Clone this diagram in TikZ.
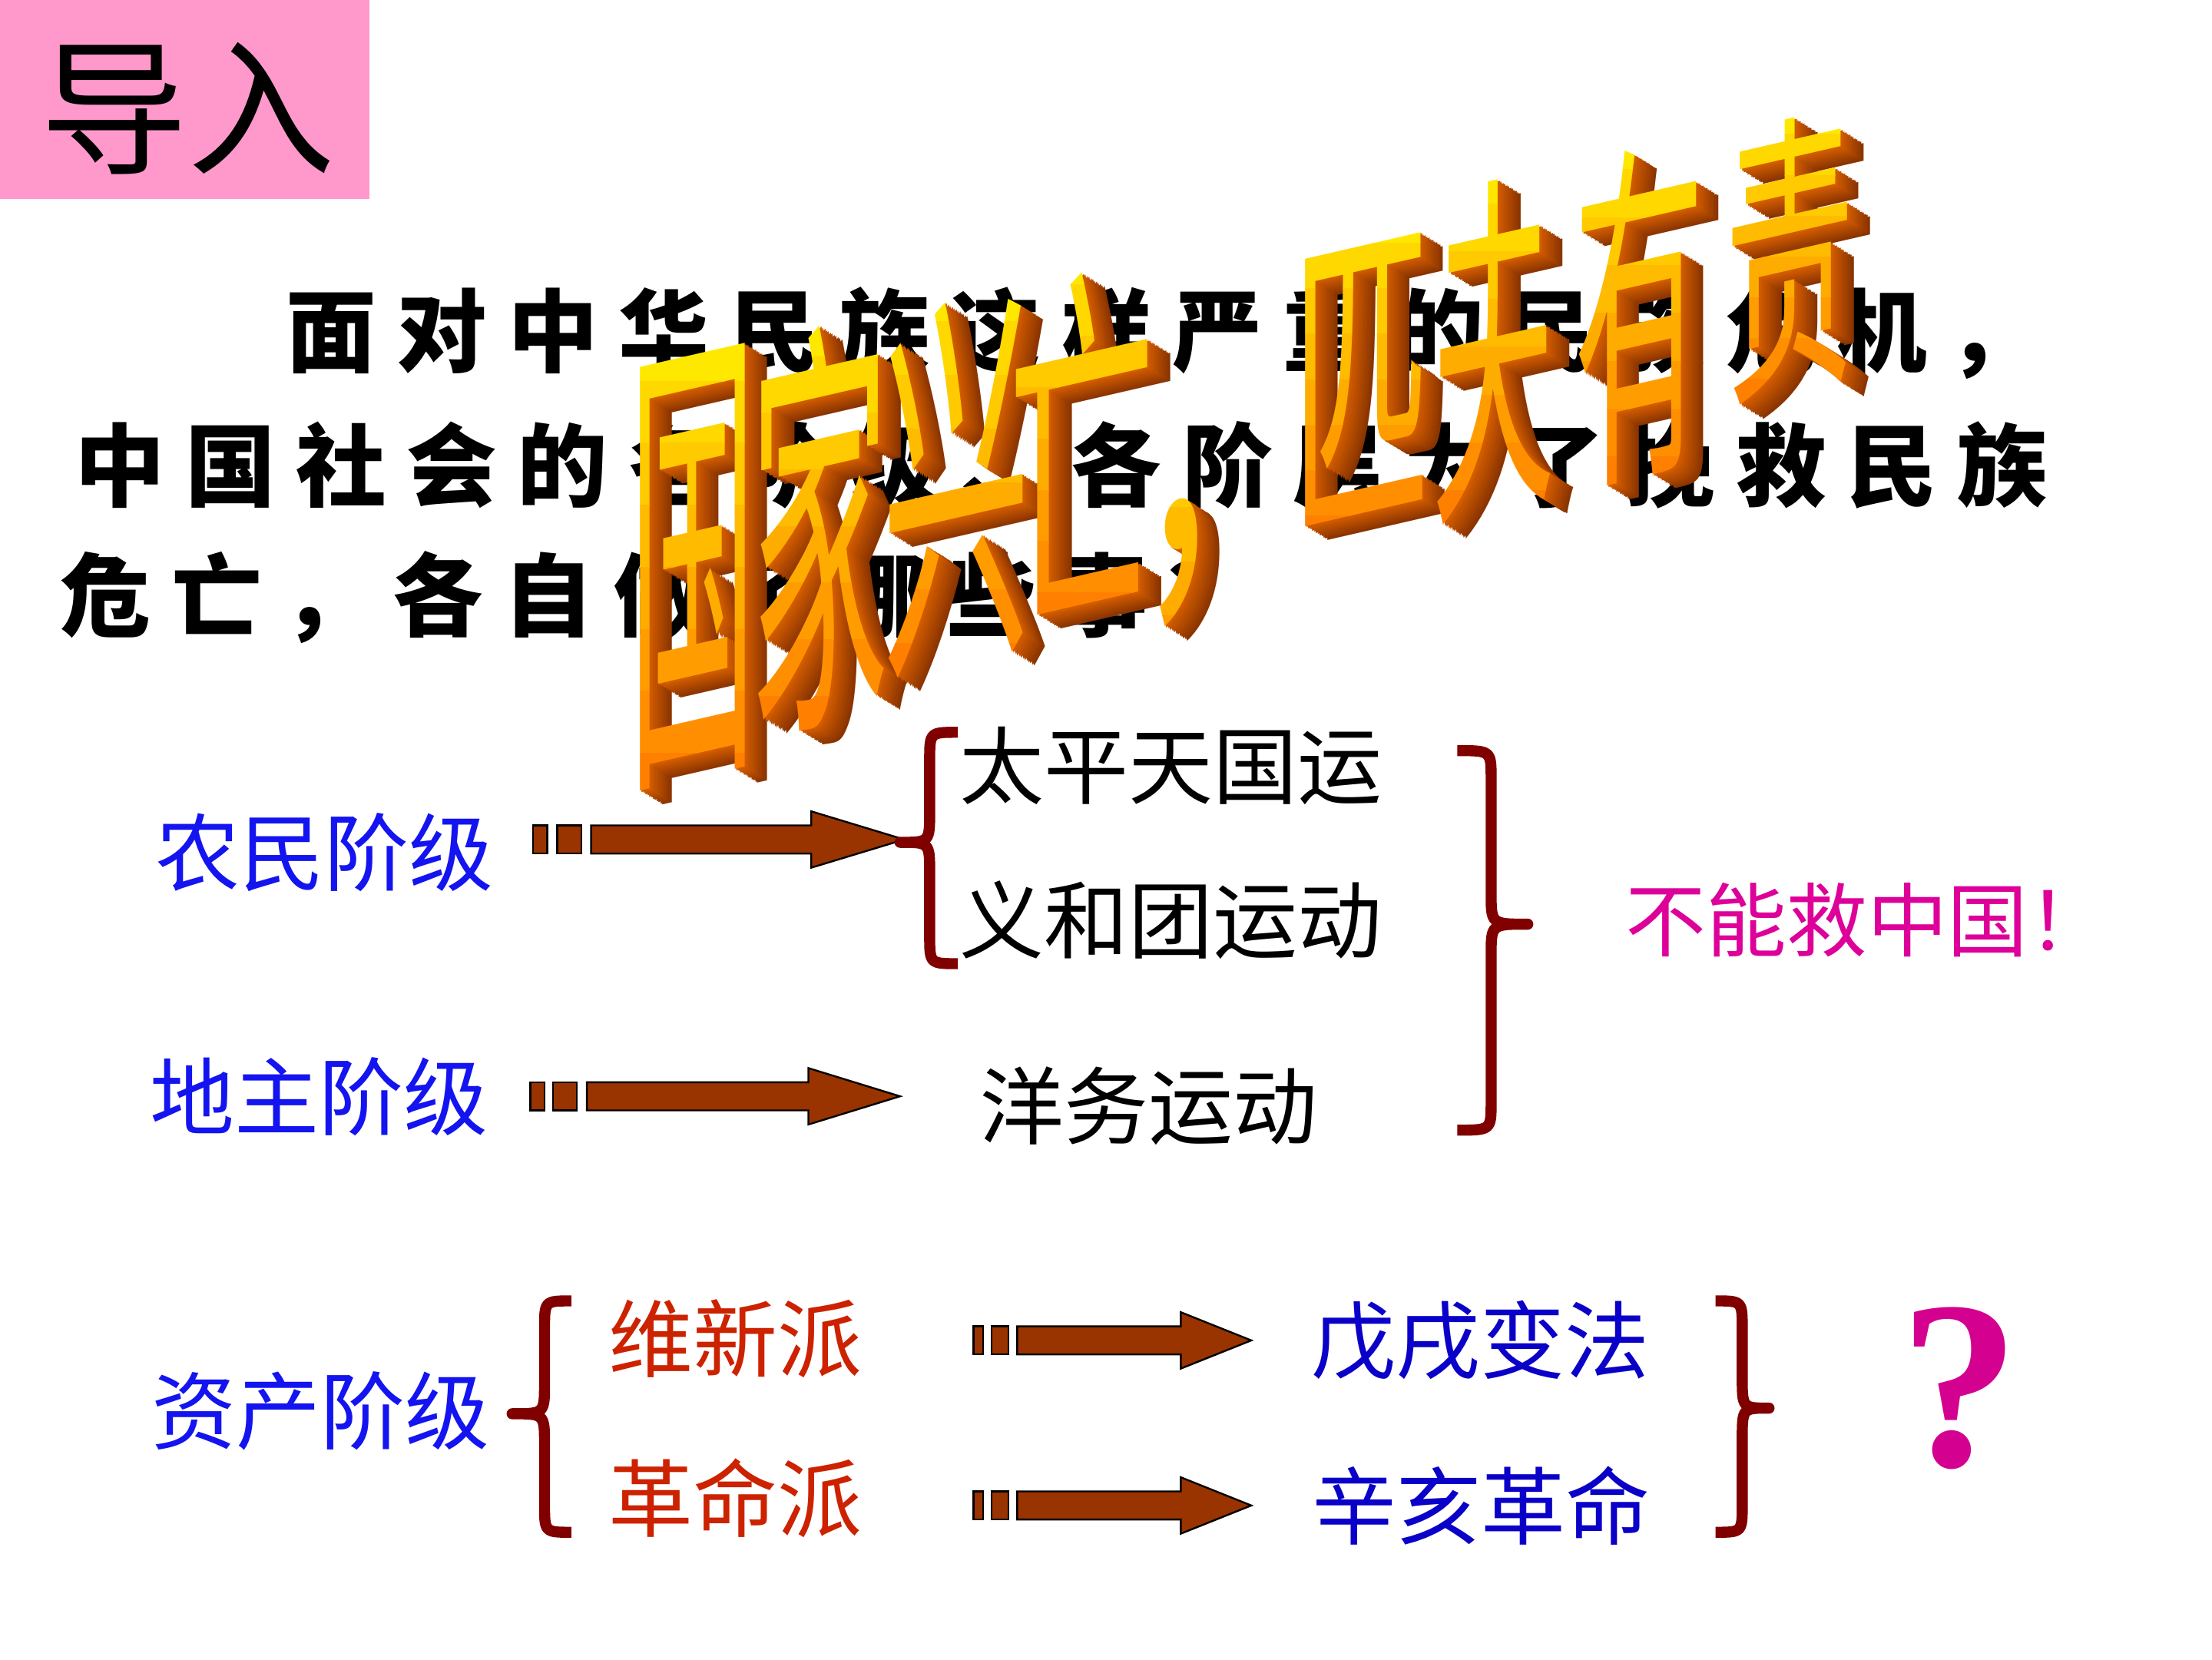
\documentclass[tikz,border=0pt]{standalone}
\usepackage{fontspec}
\newfontfamily\cjk{Noto Sans CJK SC}
\newfontfamily\qfont{Liberation Serif}
\definecolor{pinkbox}{HTML}{FF99CC}
\definecolor{lblue}{HTML}{1414F0}
\definecolor{dblue}{HTML}{0A00C8}
\definecolor{redtxt}{HTML}{CC2200}
\definecolor{magtxt}{HTML}{DD0099}
\definecolor{qmag}{HTML}{D4008F}
\definecolor{bracec}{HTML}{800000}
\definecolor{arrowc}{HTML}{993300}
\definecolor{wfTop}{HTML}{FFE800}
\definecolor{wfBot}{HTML}{FF8000}
\definecolor{wsB}{HTML}{8A3400}
\definecolor{wsF}{HTML}{D25C00}

\newcommand\barrowshape[8]{%
  \draw[barw] (#1,#8-10) rectangle (#2,#8+10);
  \draw[barw] (#3,#8-10) rectangle (#4,#8+10);
  \draw[barw] (#5,#8-10) -- (#6,#8-10) -- (#6,#8-20) -- (#7,#8) -- (#6,#8+20) -- (#6,#8+10) -- (#5,#8+10) -- cycle;}

\newcommand\bracepath[6]{%
  \draw[brc] (#1,#4) .. controls (#2,#4) .. (#2,#4+20) -- (#2,#5-22)
     .. controls (#2,#5) .. (#3,#5) .. controls (#2,#5) .. (#2,#5+22)
     -- (#2,#6-20) .. controls (#2,#6) .. (#1,#6);}

\newcommand\wachar[6]{%
  \foreach \k in {12,11,...,1}{%
    \pgfmathtruncatemacro\pp{(12-\k)*100/11}%
    \begin{scope}[shift={(#3+\k*1.33,#4+\k*0.83)}]
      \node[wa, yslant=0.23, xscale=#5, yscale=#6, text=wsF!\pp!wsB] (wa#1s\k) at (0,0) {#2};
    \end{scope}}
  \pgfmathsetmacro\hh{40*#6+10*#5+8}%
  \pgfmathsetmacro\bh{\hh/4}%
  \foreach \j in {0,...,7}{%
    \pgfmathtruncatemacro\qq{100-\j*100/7}%
    \begin{scope}[shift={(#3,#4)}]
      \clip (-110,{-\hh+\j*\bh}) rectangle (110,{-\hh+(\j+1)*\bh});
      \node[wa, yslant=0.23, xscale=#5, yscale=#6, text=wfTop!\qq!wfBot] (wa#1f\j) at (0,0) {#2};
    \end{scope}}}

\begin{document}
\begin{tikzpicture}[x=0.4592pt,y=-0.4592pt,
  para/.style={font=\cjk\bfseries\fontsize{29.4}{30}\selectfont, inner sep=0, anchor=base west},
  lbl/.style={font=\cjk\fontsize{27.5}{28}\selectfont, inner sep=0, anchor=west},
  brc/.style={draw=bracec, line width=3.6pt, line join=round},
  barw/.style={fill=arrowc, draw=black, line width=0.6pt},
  wa/.style={font=\cjk\fontsize{40}{40}\selectfont, inner sep=0, transform shape}]
\useasboundingbox (0,0) rectangle (1568,1176);
\fill[white] (0,0) rectangle (1568,1176);

% title box
\fill[pinkbox] (0,0) rectangle (262,141);
\node[font=\cjk\fontsize{48}{48}\selectfont, inner sep=0] (title) at (133,77) {导入};

% paragraph
\foreach \c [count=\i from 0] in {面,对,中,华,民,族,这,样,严,重,的,民,族,危,机,，}
  \node[para] (pa\i) at ({202.5+\i*78.5},259) {\c};
\foreach \c [count=\i from 0] in {中,国,社,会,的,各,阶,级,、,各,阶,层,为,了,挽,救,民,族}
  \node[para] (pb\i) at ({52.5+\i*78.5},354) {\c};
\foreach \c [count=\i from 0] in {危,亡,，,各,自,做,了,哪,些,事,？}
  \node[para] (pc\i) at ({42.5+\i*78.5},446) {\c};

% lower diagram labels
\node[lbl, text=lblue] (nong) at (110,604) {农民阶级};
\node[lbl, text=lblue] (dizhu) at (106,777) {地主阶级};
\node[lbl, text=lblue] (zichan) at (107,1000) {资产阶级};
\node[lbl] (taiping) at (680,543) {太平天国运};
\node[lbl] (yihe) at (680,652) {义和团运动};
\node[lbl] (yangwu) at (694,784) {洋务运动};
\node[lbl, font=\cjk\fontsize{26.2}{27}\selectfont, text=magtxt] (buneng) at (1152,652) {不能救中国！};
\node[lbl, text=redtxt] (weixin) at (431,949) {维新派};
\node[lbl, text=redtxt] (geming) at (431,1062) {革命派};
\node[lbl, text=dblue] (wuxu) at (929,950) {戊戌变法};
\node[lbl, text=dblue] (xinhai) at (930,1067) {辛亥革命};
\node[font=\qfont\bfseries\fontsize{78}{78}\selectfont, text=qmag, inner sep=0] (qm) at (1389,984) {?};

% block arrows
\barrowshape{378}{388}{395}{412}{419}{575}{641}{595}
\barrowshape{376}{386}{392}{409}{416}{573}{638}{777}
\barrowshape{690}{697}{703}{715}{721}{837}{887}{950}
\barrowshape{690}{697}{703}{715}{721}{837}{887}{1067}

% braces
\bracepath{679}{659}{638}{519}{597}{683}
\bracepath{1033}{1057}{1083}{532}{655}{801}
\bracepath{405}{386}{363}{922}{1002}{1086}
\bracepath{1216}{1235}{1254}{922}{998}{1086}

% word art
\wachar{1}{国}{491}{402}{1.03}{3.94}
\wachar{2}{家}{581}{373}{1.13}{3.53}
\wachar{3}{兴}{678}{342}{1.21}{3.30}
\wachar{4}{亡}{767}{311}{1.20}{3.14}
\wachar{5}{,}{836}{398}{1.8}{3.2}
\wachar{6}{匹}{965}{269}{1.13}{2.74}
\wachar{7}{夫}{1059}{246}{0.99}{2.94}
\wachar{8}{有}{1162}{222}{1.06}{2.93}
\wachar{9}{责}{1269}{182}{1.05}{2.43}
\end{tikzpicture}
\end{document}
